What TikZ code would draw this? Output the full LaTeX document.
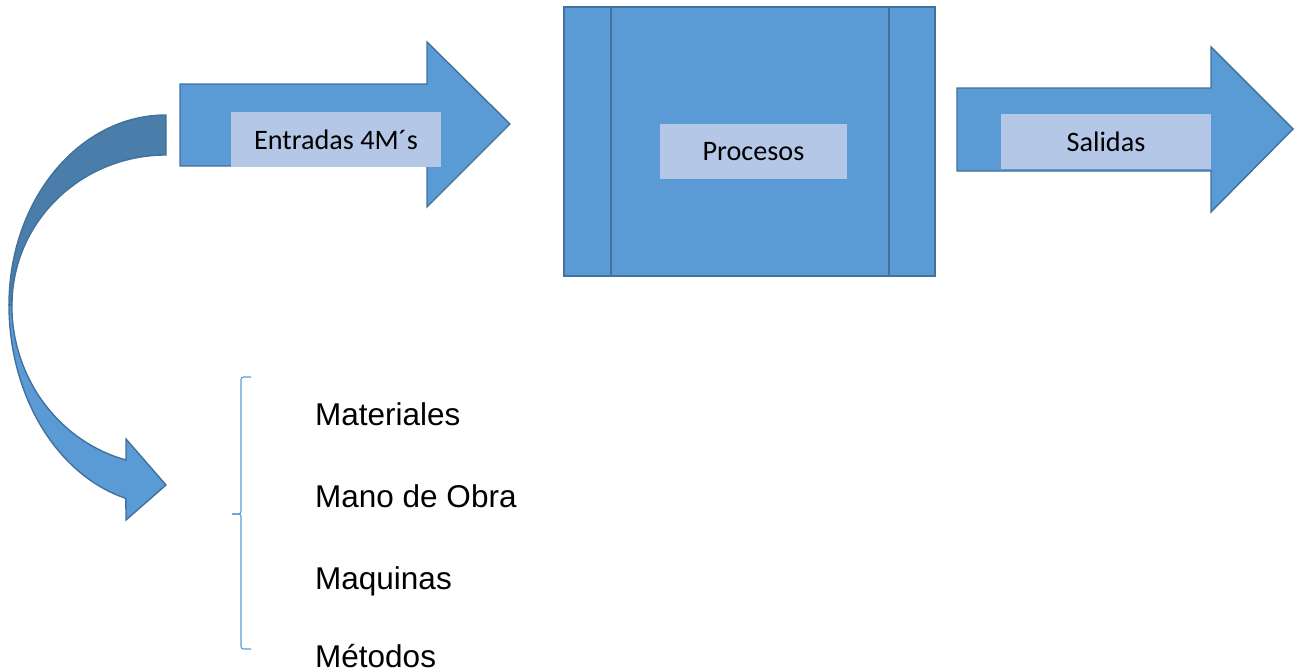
\documentclass[tikz,border=0pt]{standalone}
\usepackage{fontspec}
\setmainfont{Carlito}
\newfontfamily\listfont{Liberation Sans}
\definecolor{boxblue}{HTML}{5B9BD5}
\definecolor{edgeblue}{HTML}{41719C}
\definecolor{backblue}{HTML}{4A7DAA}
\definecolor{labelfill}{HTML}{B4C7E7}
\tikzset{
  shapeblue/.style={fill=boxblue, draw=edgeblue, line width=1.4pt, line join=miter},
  labelbox/.style={fill=labelfill, draw=none, inner sep=0pt, font=\fontsize{28.2}{31}\selectfont},
  listitem/.style={anchor=base west, inner sep=0pt, font=\listfont\fontsize{31.5}{36}\selectfont},
  bracketline/.style={draw=boxblue, line width=1.1pt, rounded corners=2.5pt}
}
\begin{document}
\begin{tikzpicture}[x=1pt, y=-1pt]
\useasboundingbox (0,0) rectangle (1294,672);

% input arrow
\path[shapeblue] (180,84) -- (427,84) -- (427,42) -- (510,124) -- (427,207) -- (427,166) -- (180,166) -- cycle;
\node[labelbox, minimum width=210pt, minimum height=55pt] (entradas) at (336,139.5) {Entradas 4M´s};

% process block with side bands
\path[shapeblue] (564,7) rectangle (935,276);
\draw[edgeblue, line width=1.4pt] (611,7) -- (611,276);
\draw[edgeblue, line width=1.4pt] (889,7) -- (889,276);
\node[labelbox, minimum width=187pt, minimum height=55pt] (procesos) at (753.5,151.5) {Procesos};

% output arrow
\path[shapeblue] (957,88) -- (1211,88) -- (1211,47) -- (1293,129) -- (1211,212) -- (1211,171) -- (957,171) -- cycle;
\node[labelbox, minimum width=210pt, minimum height=55pt] (salidas) at (1106,141.5) {Salidas};

% curved arrow: back side (upper band)
\path[shapeblue, fill=backblue] (166,115) arc[start angle=-90, end angle=-180, x radius=157, y radius=190]
  -- (12,305) arc[start angle=180, end angle=270, x radius=154, y radius=150] -- cycle;
% curved arrow: front side with head
\path[shapeblue] (9,305) arc[start angle=180, end angle=104.8, x radius=157, y radius=200]
  -- (126,520) -- (166,485) -- (126,439) -- (126,460)
  arc[start angle=105, end angle=180, x radius=154, y radius=160] -- cycle;

% brace grouping the four inputs
\draw[bracketline] (251,377) -- (241,377) -- (241,514) -- (232,514);
\draw[bracketline] (232,514) -- (241,514) -- (241,649) -- (251,649);

% list of inputs
\node[listitem] (materiales) at (315,425) {Materiales};
\node[listitem] (manoobra) at (315,507) {Mano de Obra};
\node[listitem] (maquinas) at (315,589) {Maquinas};
\node[listitem] (metodos) at (315,667) {Métodos};
\end{tikzpicture}
\end{document}
